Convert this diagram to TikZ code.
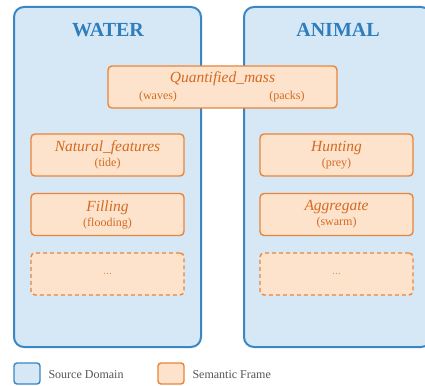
\documentclass[tikz,border=0pt]{standalone}
\usepackage{fontspec}
\setmainfont{Liberation Serif}
\begin{document}
\begin{tikzpicture}[x=1pt,y=-1pt,
  domainbox/.style={draw=dblue,fill=dfill,line width=2pt,rounded corners=10pt},
  framebox/.style={draw=forange,fill=ffill,line width=1.4pt,rounded corners=4pt,minimum width=153pt,minimum height=42pt,inner sep=0pt,align=center,text=ftext},
  dashedframe/.style={framebox,dash pattern=on 4pt off 3pt},
  title/.style={text=tblue,font=\fontsize{20}{24}\selectfont\bfseries},
  fname/.style={font=\fontsize{15.5}{18}\selectfont\itshape},
  fsub/.style={font=\fontsize{12}{14}\selectfont},
  legtext/.style={text=lgray,font=\fontsize{12}{14}\selectfont,anchor=west}
]
\definecolor{dblue}{HTML}{3A87C4}
\definecolor{dfill}{HTML}{D6E8F6}
\definecolor{tblue}{HTML}{2E7DBD}
\definecolor{forange}{HTML}{E8853A}
\definecolor{ffill}{HTML}{FDE3CB}
\definecolor{ftext}{HTML}{D46A22}
\definecolor{lgray}{HTML}{555555}
\useasboundingbox (0,0) rectangle (425,385);
\fill[white] (0,0) rectangle (425,385);
% domains
\draw[domainbox] (14,7) rectangle (201,347);
\draw[domainbox] (244,7) rectangle (431,347);
\node[title] (water) at (108,30) {WATER};
\node[title] (animal) at (338,30) {ANIMAL};
% shared frame
\node[framebox,minimum width=229pt] (qm) at (222.5,87) {};
\node[fname,text=ftext] (qmname) at (222.5,78.5) {Quantified\_mass};
\node[fsub,text=ftext] (waves) at (158,97) {(waves)};
\node[fsub,text=ftext] (packs) at (287,97) {(packs)};
% left frames
\node[framebox] (nat) at (107.5,155) {\fontsize{15.5}{18}\selectfont\itshape Natural\_features\\[3pt]\fontsize{12}{14}\selectfont (tide)};
\node[framebox] (fill) at (107.5,214.5) {\fontsize{15.5}{18}\selectfont\itshape Filling\\[3pt]\fontsize{12}{14}\selectfont (flooding)};
\node[dashedframe] (ldots) at (107.5,274) {\fontsize{12}{14}\selectfont\color{ftext!70}...};
% right frames
\node[framebox] (hunt) at (336.5,155) {\fontsize{15.5}{18}\selectfont\itshape Hunting\\[3pt]\fontsize{12}{14}\selectfont (prey)};
\node[framebox] (agg) at (336.5,214.5) {\fontsize{15.5}{18}\selectfont\itshape Aggregate\\[3pt]\fontsize{12}{14}\selectfont (swarm)};
\node[dashedframe] (rdots) at (336.5,274) {\fontsize{12}{14}\selectfont\color{ftext!70}...};
% legend
\draw[domainbox,line width=1.4pt,rounded corners=3pt] (14,363) rectangle (40,384);
\node[legtext] (lsrc) at (45,375) {Source Domain};
\draw[draw=forange,fill=ffill,line width=1.4pt,rounded corners=3pt] (158,363) rectangle (184,384);
\node[legtext] (lsem) at (189,375) {Semantic Frame};
\end{tikzpicture}
\end{document}
